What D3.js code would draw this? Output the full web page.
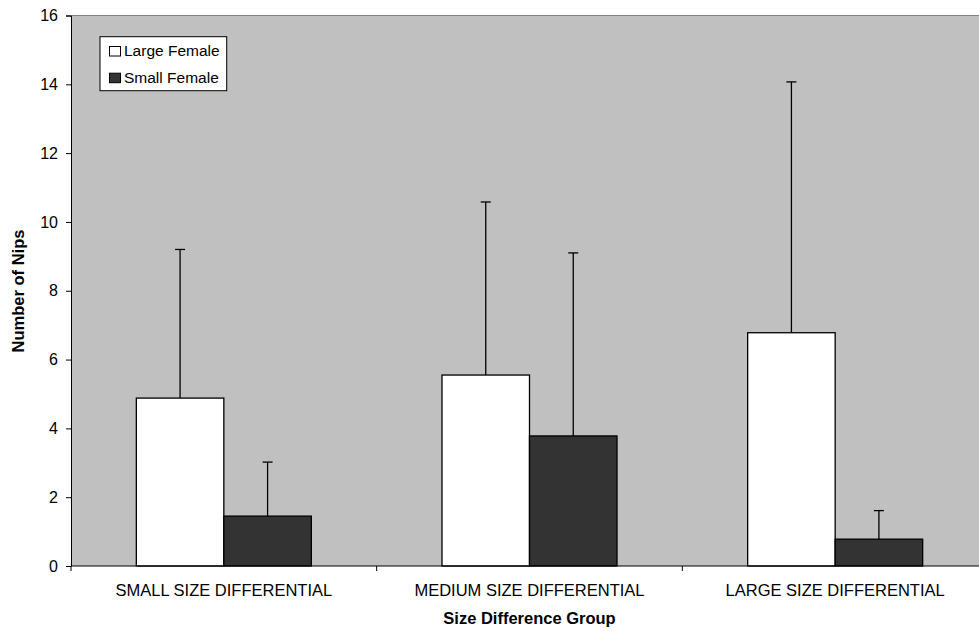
<!DOCTYPE html>
<html><head><meta charset="utf-8">
<script src="https://cdn.jsdelivr.net/npm/d3@7"></script>
<style>body{margin:0;background:#fff;} text{font-family:Arial,"Liberation Sans",sans-serif;}</style>
</head><body>
<svg id="c" width="979" height="631"></svg>
<script>
const categories = ["SMALL SIZE DIFFERENTIAL","MEDIUM SIZE DIFFERENTIAL","LARGE SIZE DIFFERENTIAL"];
const seriesNames = ["Large Female","Small Female"];
const largeFemale = [4.88, 5.55, 6.78];
const smallFemale = [1.45, 3.78, 0.78];
const largeFemaleErr = [4.32, 5.03, 7.29];
const smallFemaleErr = [1.57, 5.32, 0.83];
const yTicks = [0,2,4,6,8,10,12,14,16];

const svg = d3.select("#c");
const L = 71, T = 15.5, W = 917, H = 550.5;
const colors = ["#ffffff","#333333"];
const series = [largeFemale, smallFemale];
const errs = [largeFemaleErr, smallFemaleErr];

const x0 = d3.scaleBand().domain(categories).range([L, L+W]).paddingInner(0).paddingOuter(0);
const y = d3.scaleLinear().domain([0,16]).range([T+H, T]);
const barW = 87.5;
const x1 = d3.scaleBand().domain(seriesNames).range([0, barW*2]);

svg.append("defs").append("clipPath").attr("id","pc").append("rect")
  .attr("x",L).attr("y",0).attr("width",W).attr("height",631);

const g = svg.append("g").attr("clip-path","url(#pc)");
g.append("rect").attr("x",L).attr("y",T).attr("width",W).attr("height",H).attr("fill","#c0c0c0");
g.append("line").attr("x1",L).attr("x2",L+W).attr("y1",T).attr("y2",T).attr("stroke","#808080").attr("stroke-width",1);

series.forEach((vals, si) => {
  categories.forEach((c, ci) => {
    const bx = x0(c) + (x0.bandwidth()-barW*2)/2 + x1(seriesNames[si]);
    const v = vals[ci];
    const cx = bx + x1.bandwidth()/2;
    g.append("line").attr("x1",cx).attr("x2",cx).attr("y1",y(v)).attr("y2",y(v+errs[si][ci]))
      .attr("stroke","#000").attr("stroke-width",1.3);
    g.append("line").attr("x1",cx-5).attr("x2",cx+5).attr("y1",y(v+errs[si][ci])).attr("y2",y(v+errs[si][ci]))
      .attr("stroke","#000").attr("stroke-width",1.3);
    g.append("rect").attr("x",bx).attr("y",y(v)).attr("width",x1.bandwidth()).attr("height",y(0)-y(v))
      .attr("fill",colors[si]).attr("stroke","#000").attr("stroke-width",1.3);
  });
});

const yAxis = d3.axisLeft(y).tickValues(yTicks).tickSize(5).tickPadding(8).tickFormat(d3.format("d"));
const ya = svg.append("g").attr("transform",`translate(${L},0)`).call(yAxis);
ya.select(".domain").attr("stroke","#000");
ya.selectAll("text").attr("font-size",16).attr("fill","#000").style("font-family","Arial,'Liberation Sans',sans-serif");

const xa = svg.append("g").attr("transform",`translate(0,${T+H})`);
xa.append("line").attr("x1",L).attr("x2",979).attr("y1",0).attr("y2",0).attr("stroke","#000");
const bounds = [L, ...categories.map(c => x0(c)+x0.bandwidth())];
bounds.forEach(b => { if (b <= 979) xa.append("line").attr("x1",b).attr("x2",b).attr("y1",0).attr("y2",5).attr("stroke","#000"); });
categories.forEach(c => {
  xa.append("text").attr("x",x0(c)+x0.bandwidth()/2).attr("y",30).attr("text-anchor","middle")
    .attr("font-size",16.5).attr("fill","#000").text(c);
});

svg.append("text").attr("x",L+W/2).attr("y",624).attr("text-anchor","middle").attr("font-size",16.5)
  .attr("font-weight","bold").text("Size Difference Group");
svg.append("text").attr("transform","translate(24,291) rotate(-90)").attr("text-anchor","middle")
  .attr("font-size",16.5).attr("font-weight","bold").text("Number of Nips");

const lg = svg.append("g");
lg.append("rect").attr("x",100).attr("y",36.7).attr("width",126.7).attr("height",54).attr("fill","#fff").attr("stroke","#000").attr("stroke-width",1);
seriesNames.forEach((n,i) => {
  const base = 56 + i*26.7;
  lg.append("rect").attr("x",109.5).attr("y",base-9.5).attr("width",11).attr("height",9.5).attr("fill",colors[i]).attr("stroke","#000").attr("stroke-width",1);
  lg.append("text").attr("x",124).attr("y",base).attr("font-size",15.5).text(n);
});
</script>
</body></html>
